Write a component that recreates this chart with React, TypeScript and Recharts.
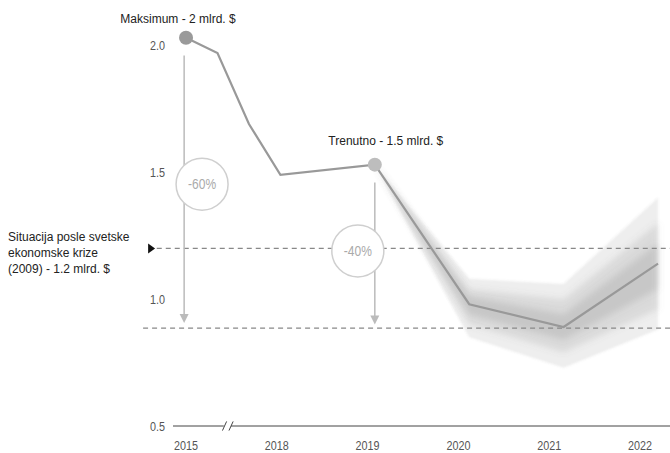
import React from "react";
import {
  ComposedChart,
  Line,
  Area,
  XAxis,
  YAxis,
  ReferenceLine,
  ReferenceDot,
} from "recharts";

// years on the axis; 2016/2017 sit inside the broken 2015-2018 stretch
const years = [2015, 2016, 2017, 2018, 2019, 2020, 2021, 2022];
const axisPos = [0, 1 / 3, 2 / 3, 1, 2, 3, 4, 5];
const revenue = [2.03, 1.97, 1.69, 1.49, 1.53, 0.98, 0.89, 1.14];

// forecast uncertainty (outer -> inner)
const outerLow = [null, null, null, null, 1.53, 0.85, 0.73, 0.88];
const outerHigh = [null, null, null, null, 1.53, 1.08, 1.06, 1.4];
const midLow = [null, null, null, null, 1.53, 0.9, 0.79, 0.96];
const midHigh = [null, null, null, null, 1.53, 1.04, 1.0, 1.3];
const innerLow = [null, null, null, null, 1.53, 0.94, 0.84, 1.04];
const innerHigh = [null, null, null, null, 1.53, 1.01, 0.94, 1.22];

const tickLabels = ["2015", "2018", "2019", "2020", "2021", "2022"];
const xTicks = [0, 1, 2, 3, 4, 5];
const yTicks = [0.5, 1.0, 1.5, 2.0];

const crisisLevel = 1.2;
const floorLevel = 0.886;

const rows = years.map((y, i) => ({
  year: y,
  x: axisPos[i],
  value: revenue[i],
  outer: outerLow[i] == null ? null : [outerLow[i], outerHigh[i]],
  mid: midLow[i] == null ? null : [midLow[i], midHigh[i]],
  inner: innerLow[i] == null ? null : [innerLow[i], innerHigh[i]],
}));

const SANS = "'Liberation Sans', Arial, sans-serif";

// narrow look: Arial metrics squeezed horizontally
const NarrowText = ({ x, y, anchor, size, fill, children }: any) => (
  <g transform={`translate(${x},${y}) scale(0.8,1)`}>
    <text x={0} y={0} textAnchor={anchor} fontSize={size} fill={fill} fontFamily={SANS}>
      {children}
    </text>
  </g>
);

const YTick = (p: any) => (
  <NarrowText x={p.x - 8} y={p.y + 5} anchor="end" size={13.5} fill="#555">
    {Number(p.payload.value).toFixed(1)}
  </NarrowText>
);

const XTick = (p: any) => {
  const v = p.payload.value;
  return (
    <NarrowText x={p.x - v * 3.6} y={p.y + 24} anchor="middle" size={13.5} fill="#555">
      {tickLabels[v]}
    </NarrowText>
  );
};

const KeyDot = (p: any) => {
  if (p.index === 0) return <circle key="max" cx={p.cx} cy={p.cy} r={7} fill="#9a9a9a" />;
  if (p.index === 4) return <circle key="now" cx={p.cx} cy={p.cy} r={7} fill="#bdbdbd" />;
  return <g key={`d${p.index}`} />;
};

const Caption = (txt: string, dx: number, dy: number) => (p: any) => (
  <text x={p.cx + dx} y={p.cy + dy} textAnchor="middle" fontSize={12} fill="#222" fontFamily={SANS}>
    {txt}
  </text>
);

const ArrowHead = (p: any) => (
  <path
    d={`M${p.cx - 4.5},${p.cy - 9} L${p.cx + 4.5},${p.cy - 9} L${p.cx},${p.cy} Z`}
    fill="#bbb"
  />
);

const Marker = (p: any) => (
  <path
    d={`M${p.cx - 3},${p.cy - 5} L${p.cx + 4},${p.cy} L${p.cx - 3},${p.cy + 5} Z`}
    fill="#111"
  />
);

const pctBubble = (txt: string) => (p: any) => (
  <g>
    <circle cx={p.cx} cy={p.cy} r={26} fill="#fff" stroke="#cfcfcf" strokeWidth={1.5} />
    <NarrowText x={p.cx} y={p.cy + 5} anchor="middle" size={15} fill="#aaa">
      {txt}
    </NarrowText>
  </g>
);

export default function App() {
  return (
    <div style={{ position: "absolute", left: 0, top: 0, width: 670, height: 453 }}>
      <ComposedChart
        width={670}
        height={453}
        data={rows}
        margin={{ top: 20, right: 0, bottom: 0, left: 0 }}
      >
        <defs>
          <filter id="soft" x="-10%" y="-20%" width="120%" height="140%">
            <feGaussianBlur stdDeviation="3" />
          </filter>
          <filter id="edge" x="-10%" y="-20%" width="120%" height="140%">
            <feGaussianBlur stdDeviation="1.2" />
          </filter>
        </defs>
        <XAxis
          dataKey="x"
          type="number"
          domain={[-0.138, 5.127]}
          ticks={xTicks}
          allowDataOverflow
          axisLine={false}
          tickLine={false}
          tickSize={0}
          tickMargin={0}
          height={27}
          tick={<XTick />}
        />
        <YAxis
          type="number"
          domain={[0.5, 2.1]}
          ticks={yTicks}
          allowDataOverflow
          axisLine={false}
          tickLine={false}
          tickSize={0}
          tickMargin={0}
          width={173}
          tick={<YTick />}
        />

        <Area dataKey="outer" stroke="none" fill="#777" fillOpacity={0.12} filter="url(#edge)" isAnimationActive={false} />
        <Area dataKey="mid" stroke="none" fill="#777" fillOpacity={0.16} filter="url(#soft)" isAnimationActive={false} />
        <Area dataKey="inner" stroke="none" fill="#777" fillOpacity={0.2} filter="url(#soft)" isAnimationActive={false} />

        {/* broken x-axis line */}
        <ReferenceLine segment={[{ x: -0.138, y: 0.5 }, { x: 0.4, y: 0.5 }]} stroke="#444" strokeWidth={1} ifOverflow="visible" />
        <ReferenceLine segment={[{ x: 0.477, y: 0.5 }, { x: 5.127, y: 0.5 }]} stroke="#444" strokeWidth={1} ifOverflow="visible" />
        <ReferenceLine segment={[{ x: 0.386, y: 0.482 }, { x: 0.43, y: 0.518 }]} stroke="#444" strokeWidth={1} ifOverflow="visible" />
        <ReferenceLine segment={[{ x: 0.455, y: 0.482 }, { x: 0.499, y: 0.518 }]} stroke="#444" strokeWidth={1} ifOverflow="visible" />

        {/* reference levels */}
        <ReferenceLine segment={[{ x: -0.31, y: crisisLevel }, { x: 5.127, y: crisisLevel }]} stroke="#888" strokeWidth={1.2} strokeDasharray="5 4" ifOverflow="visible" />
        <ReferenceLine segment={[{ x: -0.455, y: floorLevel }, { x: 5.127, y: floorLevel }]} stroke="#888" strokeWidth={1.2} strokeDasharray="5 4" ifOverflow="visible" />
        <ReferenceDot x={-0.37} y={crisisLevel} ifOverflow="visible" shape={<Marker />} />

        {/* drop arrows */}
        <ReferenceLine segment={[{ x: -0.02, y: 1.96 }, { x: -0.02, y: 0.93 }]} stroke="#bbb" strokeWidth={1.5} ifOverflow="visible" />
        <ReferenceDot x={-0.02} y={0.906} ifOverflow="visible" shape={<ArrowHead />} />
        <ReferenceLine segment={[{ x: 2, y: 1.46 }, { x: 2, y: 0.93 }]} stroke="#bbb" strokeWidth={1.5} ifOverflow="visible" />
        <ReferenceDot x={2} y={0.9} ifOverflow="visible" shape={<ArrowHead />} />

        <ReferenceDot x={0.17} y={1.453} ifOverflow="visible" shape={pctBubble("-60%")} />
        <ReferenceDot x={1.82} y={1.19} ifOverflow="visible" shape={pctBubble("-40%")} />

        <Line
          dataKey="value"
          stroke="#999"
          strokeWidth={2.2}
          dot={KeyDot}
          activeDot={false}
          isAnimationActive={false}
        />

        <ReferenceDot x={axisPos[0]} y={revenue[0]} ifOverflow="visible" shape={Caption("Maksimum - 2 mlrd. $", -8, -15)} />
        <ReferenceDot x={axisPos[4]} y={revenue[4]} ifOverflow="visible" shape={Caption("Trenutno - 1.5 mlrd. $", 11, -20)} />
      </ComposedChart>
      <div
        style={{
          position: "absolute",
          left: 8,
          top: 229,
          fontFamily: SANS,
          fontSize: 12,
          lineHeight: "16px",
          color: "#222",
        }}
      >
        Situacija posle svetske
        <br />
        ekonomske krize
        <br />
        (2009) - 1.2 mlrd. $
      </div>
    </div>
  );
}
